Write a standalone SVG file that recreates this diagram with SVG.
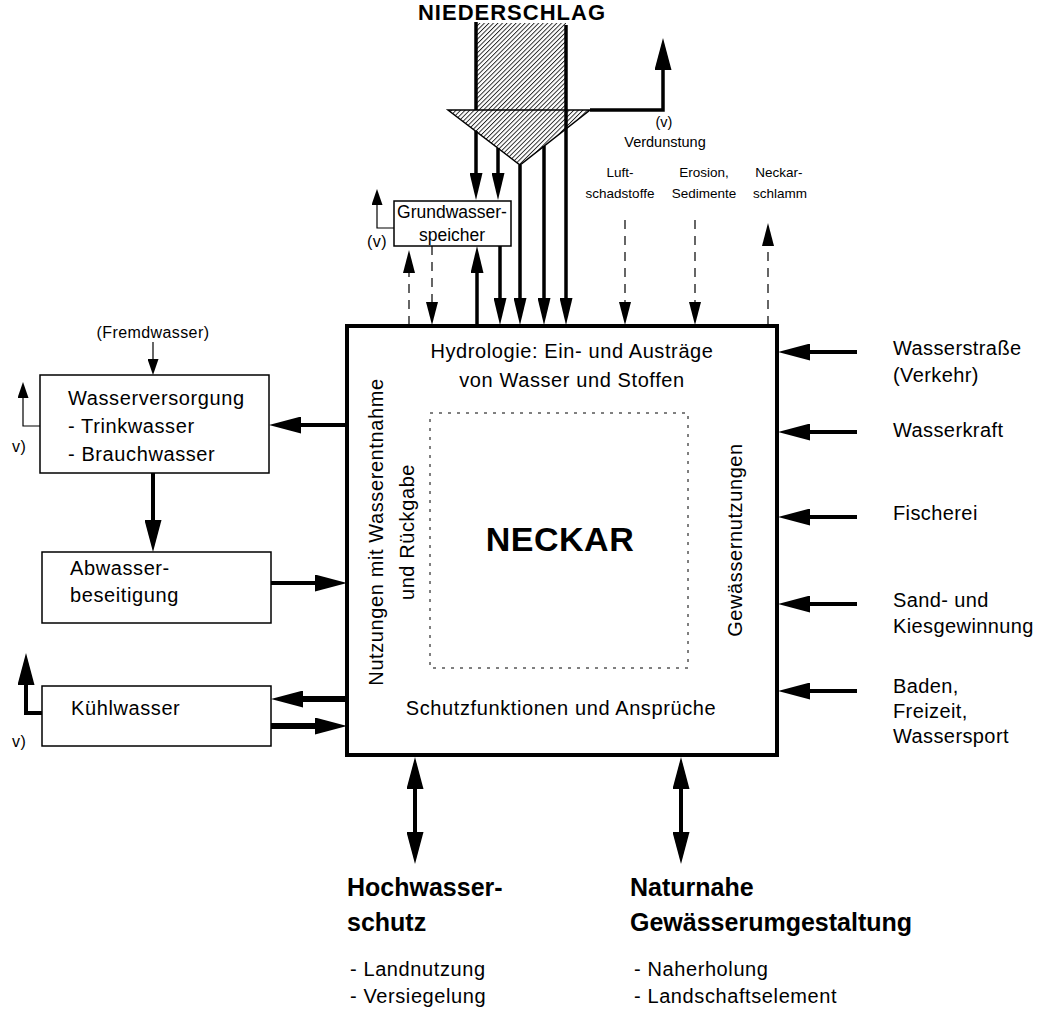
<svg xmlns="http://www.w3.org/2000/svg" width="1043" height="1013" viewBox="0 0 1043 1013">
<defs>
<pattern id="hatch" patternUnits="userSpaceOnUse" width="3.2" height="3.2" patternTransform="rotate(45)">
<line x1="0.5" y1="0" x2="0.5" y2="3.2" stroke="#000" stroke-width="0.8"/>
</pattern>
<marker id="ah" markerUnits="userSpaceOnUse" markerWidth="32" markerHeight="17" refX="0" refY="8.5" orient="auto" viewBox="0 0 32 17"><path d="M0,0 L32,8.5 L0,17 z" fill="#000"/></marker>
<marker id="am" markerUnits="userSpaceOnUse" markerWidth="27" markerHeight="13" refX="0" refY="6.5" orient="auto" viewBox="0 0 27 13"><path d="M0,0 L27,6.5 L0,13 z" fill="#000"/></marker>
<marker id="as" markerUnits="userSpaceOnUse" markerWidth="23" markerHeight="12" refX="0" refY="6" orient="auto" viewBox="0 0 23 12"><path d="M0,0 L23,6 L0,12 z" fill="#000"/></marker>
<marker id="at" markerUnits="userSpaceOnUse" markerWidth="16" markerHeight="11" refX="0" refY="5.5" orient="auto" viewBox="0 0 16 11"><path d="M0,0 L16,5.5 L0,11 z" fill="#000"/></marker>
</defs>
<style>
text{font-family:"Liberation Sans",Arial,Helvetica,sans-serif;fill:#000}
.t20{font-size:20px;letter-spacing:0.6px}
.tr{font-size:20px;letter-spacing:0.4px}
.t17{font-size:17.5px}
.t16{font-size:16px;letter-spacing:0.4px}
.t14{font-size:14.5px}
.t13{font-size:13.5px}
.big{font-size:25px;font-weight:bold}
.mid{text-anchor:middle}
.box{fill:#fff;stroke:#000;stroke-width:1.5}
.main{fill:#fff;stroke:#000;stroke-width:4}
.c{fill:none;stroke:#000}
.w1{stroke-width:1.2}
.w3{stroke-width:3.5}
.w4{stroke-width:4}
.w6{stroke-width:6}
.dash{stroke-dasharray:9 7}
.e{marker-end:url(#ah)}
.em{marker-end:url(#am)}
.es{marker-end:url(#as)}
.et{marker-end:url(#at)}
</style>
<rect width="1043" height="1013" fill="#fff"/>

<g id="niederschlag">
<text x="512" y="20" class="mid" style="font-size:22px;font-weight:bold;letter-spacing:1px">NIEDERSCHLAG</text>
<rect x="476" y="23" width="90" height="87" fill="url(#hatch)"/>
<line x1="476" y1="22" x2="476" y2="110" stroke="#000" stroke-width="3.5"/>
<line x1="566" y1="25" x2="566" y2="110" stroke="#000" stroke-width="3.5"/>
<polygon points="448,110 590,110 520,165" fill="url(#hatch)" stroke="#000" stroke-width="1.5" stroke-linejoin="miter"/>
</g>

<g id="neckar">
<rect class="main" x="347" y="326" width="430" height="429"/>
<rect x="430" y="413" width="258" height="255" fill="none" stroke="#000" stroke-width="1" stroke-dasharray="3 6"/>
<text x="572" y="358" class="t20 mid">Hydrologie: Ein- und Austräge</text>
<text x="572" y="387" class="t20 mid">von Wasser und Stoffen</text>
<text x="560" y="551" class="mid" style="font-size:34px;font-weight:bold;letter-spacing:0.5px">NECKAR</text>
<text x="561" y="715" class="t20 mid">Schutzfunktionen und Ansprüche</text>
<text transform="translate(383,532) rotate(-90)" class="t20 mid">Nutzungen mit Wasserentnahme</text>
<text transform="translate(414,532) rotate(-90)" class="t20 mid">und Rückgabe</text>
<text transform="translate(742,540) rotate(-90)" class="t20 mid">Gewässernutzungen</text>
</g>

<g id="grundwasserspeicher">
<rect class="box" x="394" y="201" width="117" height="45"/>
<text x="452" y="218" class="t17 mid">Grundwasser-</text>
<text x="452" y="241" class="t17 mid">speicher</text>
<text x="367" y="247" class="t16">(v)</text>
</g>

<g id="verdunstung">
<text x="664" y="127" class="t14 mid">(v)</text>
<text x="665" y="147" class="t14 mid">Verdunstung</text>
</g>
<g id="luftschadstoffe">
<text x="620" y="177" class="t13 mid">Luft-</text>
<text x="620" y="198" class="t13 mid">schadstoffe</text>
</g>
<g id="erosion">
<text x="704" y="177" class="t13 mid">Erosion,</text>
<text x="704" y="198" class="t13 mid">Sedimente</text>
</g>
<g id="neckarschlamm">
<text x="779" y="177" class="t13 mid">Neckar-</text>
<text x="780" y="198" class="t13 mid">schlamm</text>
</g>

<g id="wasserversorgung">
<text x="153" y="338" class="t16 mid">(Fremdwasser)</text>
<rect class="box" x="40" y="375" width="229" height="98"/>
<text x="68" y="405" class="t20">Wasserversorgung</text>
<text x="68" y="433" class="t20">- Trinkwasser</text>
<text x="68" y="461" class="t20">- Brauchwasser</text>
<text x="12" y="452" class="t16">v)</text>
</g>

<g id="abwasser">
<rect class="box" x="42" y="552" width="229" height="71"/>
<text x="70" y="575" class="t20">Abwasser-</text>
<text x="70" y="602" class="t20">beseitigung</text>
</g>

<g id="kuehlwasser">
<rect class="box" x="42" y="686" width="229" height="60"/>
<text x="71" y="715" class="t20">Kühlwasser</text>
<text x="12" y="747" class="t16">v)</text>
</g>

<g id="wasserstrasse"><text x="893" y="355" class="tr">Wasserstraße</text><text x="893" y="382" class="tr">(Verkehr)</text></g>
<g id="wasserkraft"><text x="893" y="437" class="tr">Wasserkraft</text></g>
<g id="fischerei"><text x="893" y="520" class="tr">Fischerei</text></g>
<g id="sand"><text x="893" y="607" class="tr">Sand- und</text><text x="893" y="633" class="tr">Kiesgewinnung</text></g>
<g id="baden"><text x="893" y="693" class="tr">Baden,</text><text x="893" y="718" class="tr">Freizeit,</text><text x="893" y="743" class="tr">Wassersport</text></g>

<g id="hochwasserschutz">
<text x="347" y="896" class="big">Hochwasser-</text>
<text x="347" y="931" class="big">schutz</text>
<text x="350" y="976" class="t20">- Landnutzung</text>
<text x="350" y="1003" class="t20">- Versiegelung</text>
</g>
<g id="naturnahe">
<text x="630" y="896" class="big">Naturnahe</text>
<text x="630" y="931" class="big">Gewässerumgestaltung</text>
<text x="634" y="976" class="t20">- Naherholung</text>
<text x="634" y="1003" class="t20">- Landschaftselement</text>
</g>

<g id="connectors">
<path class="c w3 em" d="M476,131 V173"/>
<path class="c w3 em" d="M498,148 V173"/>
<path class="c w3 em" d="M520,165 V298"/>
<path class="c w3 em" d="M544,146 V298"/>
<path class="c w3 em" d="M566,110 V298"/>
<path class="c w3 em" d="M500,246 V298"/>
<path class="c w3 em" d="M477,325 V273"/>
<path class="c w1 dash es" d="M409,325 V273"/>
<path class="c w1 dash es" d="M432,246 V302"/>
<path class="c w1 dash es" d="M625,220 V302"/>
<path class="c w1 dash es" d="M695,220 V302"/>
<path class="c w1 dash es" d="M768,325 V246"/>
<path class="c w3 e" d="M590,110 H663 V70"/>
<path class="c w1 et" d="M394,228 H377 V205"/>
<path class="c w1 et" d="M153,342 V359"/>
<path class="c w1 et" d="M40,426 H23 V398"/>
<path class="c w4 e" d="M347,425 H301"/>
<path class="c w4 e" d="M153,473 V520"/>
<path class="c w4 e" d="M271,583 H315"/>
<path class="c w6 e" d="M347,699 H303"/>
<path class="c w6 e" d="M271,726 H315"/>
<path class="c w4 e" d="M42,713 H26 V685"/>
<path class="c w4 e" d="M857,352 H810"/>
<path class="c w4 e" d="M857,432 H810"/>
<path class="c w4 e" d="M857,517 H810"/>
<path class="c w4 e" d="M857,604 H810"/>
<path class="c w4 e" d="M857,691 H810"/>
<path class="c w4 e" d="M415,810 V789"/>
<path class="c w4 e" d="M415,810 V832"/>
<path class="c w4 e" d="M681,810 V789"/>
<path class="c w4 e" d="M681,810 V832"/>
</g>
</svg>
